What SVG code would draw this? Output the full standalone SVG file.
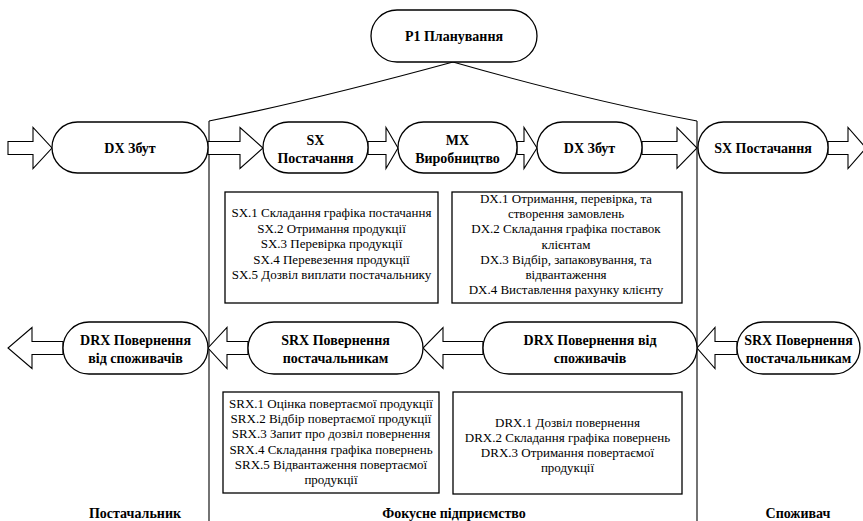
<svg xmlns="http://www.w3.org/2000/svg" width="863" height="521" viewBox="0 0 863 521">
<style>
.bg{fill:#fff}
.node{fill:#fff;stroke:#000;stroke-width:1.3}
.box{fill:#fff;stroke:#000;stroke-width:1.3}
.arr{fill:#fff;stroke:#000;stroke-width:1.1;stroke-linejoin:miter}
.ln{fill:none;stroke:#000;stroke-width:1.1}
.t{font-family:'Liberation Serif','DejaVu Serif',serif;font-weight:bold;font-size:14px;text-anchor:middle;fill:#000}
.d{font-family:'Liberation Serif','DejaVu Serif',serif;font-size:13px;text-anchor:middle;fill:#000}
</style>
<rect class="bg" x="0" y="0" width="863" height="521"/>
<g id="connectors">
  <path class="ln" d="M209,121 Q310,101 453,62 Q586,100 697,121"/>
  <line class="ln" x1="209" y1="121" x2="209" y2="521"/>
  <line class="ln" x1="697" y1="121" x2="697" y2="521"/>
  <polygon class="arr" points="8,141.5 33,141.5 33,127.5 52,148 33,168.5 33,154.5 8,154.5"/>
  <polygon class="arr" points="208,141.5 240,141.5 240,127.5 263,148 240,168.5 240,154.5 208,154.5"/>
  <polygon class="arr" points="368,141.5 386,141.5 386,127.5 398,148 386,168.5 386,154.5 368,154.5"/>
  <polygon class="arr" points="517,141.5 524,141.5 524,127.5 537,148 524,168.5 524,154.5 517,154.5"/>
  <polygon class="arr" points="642,141.5 677,141.5 677,127.5 697,148 677,168.5 677,154.5 642,154.5"/>
  <polygon class="arr" points="828,141.5 848,141.5 848,127.5 866,148 848,168.5 848,154.5 828,154.5"/>
  <polygon class="arr" points="63,341.5 32,341.5 32,327.5 8,348 32,368.5 32,354.5 63,354.5"/>
  <polygon class="arr" points="248,341.5 227,341.5 227,327.5 208,348 227,368.5 227,354.5 248,354.5"/>
  <polygon class="arr" points="483,341.5 443,341.5 443,327.5 423,348 443,368.5 443,354.5 483,354.5"/>
  <polygon class="arr" points="737,341.5 715,341.5 715,327.5 697,348 715,368.5 715,354.5 737,354.5"/>
</g>
<g id="p1"><rect class="node" x="371" y="10" width="166" height="52" rx="26"/><text class="t" x="454" y="41">P1 Планування</text></g>
<g id="dx-left"><rect class="node" x="52" y="122" width="156" height="51" rx="25.5"/><text class="t" x="130" y="153">DX Збут</text></g>
<g id="sx"><rect class="node" x="263" y="122" width="105" height="51" rx="25.5"/><text class="t" x="315.5" y="145">SX</text><text class="t" x="315.5" y="163">Постачання</text></g>
<g id="mx"><rect class="node" x="398" y="122" width="119" height="51" rx="25.5"/><text class="t" x="457.5" y="145">MX</text><text class="t" x="457.5" y="163">Виробництво</text></g>
<g id="dx"><rect class="node" x="537" y="122" width="105" height="51" rx="25.5"/><text class="t" x="589.5" y="153">DX Збут</text></g>
<g id="sx-right"><rect class="node" x="698" y="122" width="130" height="51" rx="25.5"/><text class="t" x="763" y="153">SX Постачання</text></g>
<g id="sx-box"><rect class="box" x="225" y="192" width="213" height="111"/>
<text class="d" x="331.5" y="217">SX.1 Складання графіка постачання</text>
<text class="d" x="331.5" y="232.5">SX.2 Отримання продукції</text>
<text class="d" x="331.5" y="248">SX.3 Перевірка продукції</text>
<text class="d" x="331.5" y="263.5">SX.4 Перевезення продукції</text>
<text class="d" x="331.5" y="279">SX.5 Дозвіл виплати постачальнику</text></g>
<g id="dx-box"><rect class="box" x="452" y="192" width="230" height="111"/>
<text class="d" x="566" y="203">DX.1 Отримання, перевірка, та</text>
<text class="d" x="566" y="218">створення замовлень</text>
<text class="d" x="566" y="233">DX.2 Складання графіка поставок</text>
<text class="d" x="566" y="248.5">клієнтам</text>
<text class="d" x="566" y="264">DX.3 Відбір, запаковування, та</text>
<text class="d" x="566" y="279">відвантаження</text>
<text class="d" x="566" y="294">DX.4 Виставлення рахунку клієнту</text></g>
<g id="drx-left"><rect class="node" x="63" y="322" width="145" height="52" rx="26"/><text class="t" x="135.5" y="345">DRX Повернення</text><text class="t" x="135.5" y="363">від споживачів</text></g>
<g id="srx"><rect class="node" x="248" y="322" width="175" height="52" rx="26"/><text class="t" x="335.5" y="345">SRX Повернення</text><text class="t" x="335.5" y="363">постачальникам</text></g>
<g id="drx"><rect class="node" x="483" y="322" width="214" height="52" rx="26"/><text class="t" x="590" y="345">DRX Повернення від</text><text class="t" x="590" y="363">споживачів</text></g>
<g id="srx-right"><rect class="node" x="737" y="322" width="123" height="52" rx="26"/><text class="t" x="798.5" y="345">SRX Повернення</text><text class="t" x="798.5" y="363">постачальникам</text></g>
<g id="srx-box"><rect class="box" x="223" y="392" width="216" height="101"/>
<text class="d" x="331" y="407.5">SRX.1 Оцінка повертаємої продукції</text>
<text class="d" x="331" y="423">SRX.2 Відбір повертаємої продукції</text>
<text class="d" x="331" y="438">SRX.3 Запит про дозвіл повернення</text>
<text class="d" x="331" y="453.5">SRX.4 Складання графіка повернень</text>
<text class="d" x="331" y="469">SRX.5 Відвантаження повертаємої</text>
<text class="d" x="331" y="484">продукції</text></g>
<g id="drx-box"><rect class="box" x="453" y="392" width="229" height="102"/>
<text class="d" x="567.5" y="426.5">DRX.1 Дозвіл повернення</text>
<text class="d" x="567.5" y="441.5">DRX.2 Складання графіка повернень</text>
<text class="d" x="567.5" y="456.5">DRX.3 Отримання повертаємої</text>
<text class="d" x="567.5" y="471.5">продукції</text></g>
<g id="labels">
<text class="t" x="135" y="518">Постачальник</text>
<text class="t" x="454" y="518">Фокусне підприємство</text>
<text class="t" x="798" y="518">Споживач</text>
</g>
</svg>
